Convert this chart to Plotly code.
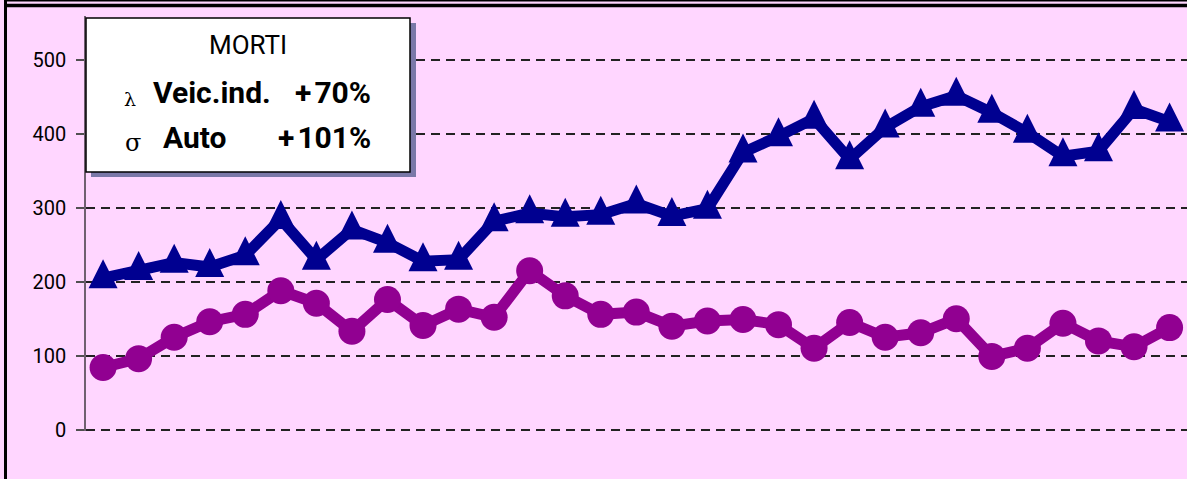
import plotly.graph_objects as go

# periodi (31 anni, etichette non mostrate nel grafico)
periodi = list(range(1, 32))

# MORTI - veicoli industriali (triangoli) e auto (cerchi)
veic_ind = [205, 216, 226, 220, 236, 285, 230, 271, 253, 228, 230, 282, 293, 288, 291, 306,
            289, 299, 375, 397, 421, 366, 409, 437, 452, 429, 402, 370, 377, 434, 417]
auto = [84, 96, 125, 146, 156, 188, 171, 133, 176, 141, 163, 152, 215, 181, 156, 159,
        140, 147, 149, 142, 110, 145, 125, 131, 150, 99, 110, 144, 120, 112, 138]

y_ticks = [0, 100, 200, 300, 400, 500]

BG = '#FFD6FF'
BLU = '#000090'
VIOLA = '#910091'
FONT = 'Roboto, Liberation Sans, sans-serif'

W, H = 1187, 479
ML, MR, MT, MB = 86, 0, 16, 48


def px(x):
    return (x - ML) / (W - ML - MR)


def py(y):
    return (H - MB - y) / (H - MT - MB)


fig = go.Figure()
fig.add_trace(go.Scatter(
    x=periodi, y=veic_ind, mode='lines',
    line=dict(color=BLU, width=11),
    showlegend=False, cliponaxis=False, hoverinfo='skip'))
# triangoli stretti e alti come nell'originale (arrow-down ruotato di 180 e spostato in su)
fig.add_trace(go.Scatter(
    x=periodi, y=veic_ind, mode='markers',
    marker=dict(symbol='arrow-down', size=29, color=BLU, angle=180, standoff=19),
    showlegend=False, cliponaxis=False))
fig.add_trace(go.Scatter(
    x=periodi, y=auto, mode='lines+markers',
    line=dict(color=VIOLA, width=11),
    marker=dict(symbol='circle', size=27, color=VIOLA),
    showlegend=False, cliponaxis=False))

fig.update_xaxes(range=[0.52, 31.49], visible=False)
fig.update_yaxes(range=[-2, 560], tickvals=y_ticks, showline=True, linecolor='#706070', linewidth=1.5,
                 ticks='outside', ticklen=8, tickcolor='#505050', tickwidth=1.5,
                 showgrid=True, gridcolor='#222222', gridwidth=1.6, griddash='9px,6px',
                 zeroline=False, ticklabelstandoff=6,
                 tickfont=dict(family=FONT, size=20, color='black'))

shapes = []
# cornice
shapes.append(dict(type='line', xref='paper', yref='paper', x0=px(5.5), x1=px(5.5), y0=py(0), y1=py(H),
                   line=dict(color='black', width=3)))
shapes.append(dict(type='line', xref='paper', yref='paper', x0=px(4), x1=px(W), y0=py(0.7), y1=py(0.7),
                   line=dict(color='black', width=1.5)))
shapes.append(dict(type='line', xref='paper', yref='paper', x0=px(4), x1=px(W), y0=py(5.5), y1=py(5.5),
                   line=dict(color='black', width=3.5)))
# riquadro legenda con ombra
shapes.append(dict(type='rect', xref='paper', yref='paper', x0=px(91), x1=px(416), y0=py(23), y1=py(177),
                   fillcolor='#7A78A8', line=dict(width=0), layer='above'))
shapes.append(dict(type='rect', xref='paper', yref='paper', x0=px(86), x1=px(410), y0=py(18), y1=py(172),
                   fillcolor='white', line=dict(color='black', width=1.5), layer='above'))
fig.update_layout(shapes=shapes)

ann = [
    dict(text='MORTI', x=px(248), y=py(45), font=dict(family=FONT, size=26), xanchor='center'),
    dict(text='λ', x=px(130), y=py(99), font=dict(family='DejaVu Serif, serif', size=19), xanchor='center'),
    dict(text='<b>Veic.ind.</b>', x=px(151), y=py(92), font=dict(family=FONT, size=30), xanchor='left'),
    dict(text='<b>+\u200a70%</b>', x=px(373), y=py(92), font=dict(family=FONT, size=30), xanchor='right'),
    dict(text='σ', x=px(133), y=py(143), font=dict(family='DejaVu Serif, serif', size=24), xanchor='center'),
    dict(text='<b>Auto</b>', x=px(161), y=py(137), font=dict(family=FONT, size=30), xanchor='left'),
    dict(text='<b>+\u200a101%</b>', x=px(373), y=py(137), font=dict(family=FONT, size=30), xanchor='right'),
]
for a in ann:
    a.update(xref='paper', yref='paper', yanchor='middle', showarrow=False)
    a['font'].setdefault('color', 'black')
fig.update_layout(annotations=ann)

fig.update_layout(width=W, height=H, margin=dict(l=ML, r=MR, t=MT, b=MB),
                  paper_bgcolor=BG, plot_bgcolor=BG)

fig.write_html("out.html", post_script="document.body.style.margin='0';", config={'displayModeBar': False})
